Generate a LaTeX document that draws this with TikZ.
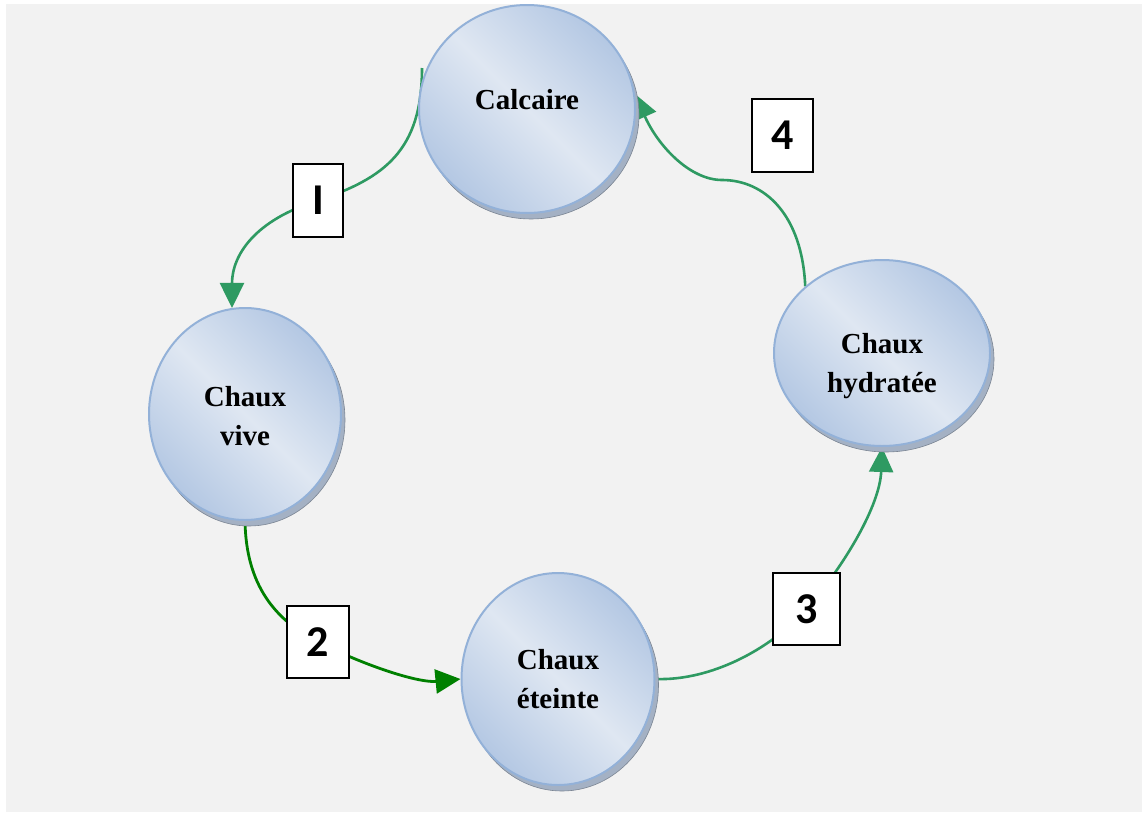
\documentclass[tikz,border=0pt]{standalone}
\usepackage{fontspec}
\setmainfont{Liberation Serif}
\newfontfamily\numfont{Carlito}
\usetikzlibrary{arrows.meta,shapes.geometric,shadows}

\definecolor{paper}{HTML}{F2F2F2}
\definecolor{orblight}{HTML}{DFE7F2}
\definecolor{orbdark}{HTML}{A8BFDF}
\definecolor{orbrim}{HTML}{93B1D8}
\definecolor{orbside}{HTML}{A4B1C4}
\definecolor{flowgreen}{HTML}{2E9A62}
\definecolor{darkflow}{HTML}{008000}

% diagonal sheen: darker at two opposite corners, light band through the middle
\pgfdeclarehorizontalshading{orbshade}{100bp}{%
  color(0bp)=(orbdark); color(18bp)=(orbdark); color(50bp)=(orblight);
  color(82bp)=(orbdark); color(100bp)=(orbdark)}

\pgfdeclarelayer{back}
\pgfsetlayers{back,main}

\begin{document}
\begin{tikzpicture}[x=1pt,y=-1pt,
  orb/.style={ellipse, draw=orbrim, line width=2pt, shading=orbshade,
    shading angle=45, inner sep=0pt,
    general shadow={fill=orbside, draw=orbside!75!black, line width=0.6pt,
      shadow xshift=4pt, shadow yshift=-6pt}},
  orbtext/.style={align=center, inner sep=0pt,
    font=\bfseries\fontsize{29}{39}\selectfont},
  stepno/.style={draw=black, line width=2.4pt, fill=white, inner sep=0pt,
    font=\numfont\bfseries\fontsize{44}{44}\selectfont},
  flow/.style={draw=flowgreen, line width=2.6pt,
    -{Triangle[length=25pt,width=24pt]}},
]
\useasboundingbox (0,0) rectangle (1142,814);
\begin{pgfonlayer}{back}
  \fill[paper] (6,4) rectangle (1142,812);
\end{pgfonlayer}

% the four stages of the lime cycle
\node[orb, minimum width=216pt, minimum height=208pt] (calc) at (527,109) {};
\node[orb, minimum width=192pt, minimum height=212pt] (vive) at (245,414) {};
\node[orb, minimum width=193pt, minimum height=212pt] (eteinte) at (558,679) {};
\node[orb, minimum width=216pt, minimum height=186pt] (hydr) at (882,353) {};

\node[orbtext] (calc-t) at ([yshift=9pt]calc.center) {Calcaire};
\node[orbtext] (vive-t) at ([yshift=-2pt]vive.center) {Chaux\\vive};
\node[orbtext] (eteinte-t) at (eteinte.center) {Chaux\\éteinte};
\node[orbtext] (hydr-t) at ([yshift=-13pt]hydr.center) {Chaux\\hydratée};

% step numbers
\node[stepno, minimum width=50pt, minimum height=73pt] (s1) at (318,200.5) {I};
\node[stepno, minimum width=62pt, minimum height=72pt] (s2) at (318,642) {2};
\node[stepno, minimum width=67pt, minimum height=72pt] (s3) at (806.5,609) {3};
\node[stepno, minimum width=61pt, minimum height=73pt] (s4) at (782.5,135.5) {4};

% transformation arrows, drawn beneath the boxes
\begin{pgfonlayer}{back}
  \coordinate (c1) at (422,68);
  \path[flow] (c1) .. controls (422,150) and (385,178) .. (s1.center)
    .. controls (255,220) and (232,255) .. (vive.97);
  \path[flow, draw=darkflow, line width=2.8pt]
    (vive.south) .. controls (246,585) and (275,620) .. (s2.center)
    .. controls (370,668) and (420,683) .. (eteinte.west);
  \path[flow] (eteinte.east) .. controls (710,681) and (770,650) .. (s3.center)
    .. controls (845,565) and (880,505) .. (hydr.south);
  \path[flow] (hydr.139) .. controls (802,215) and (765,180) .. (722,180)
    .. controls (690,180) and (658,146) .. (calc.8);
\end{pgfonlayer}
\end{tikzpicture}
\end{document}
